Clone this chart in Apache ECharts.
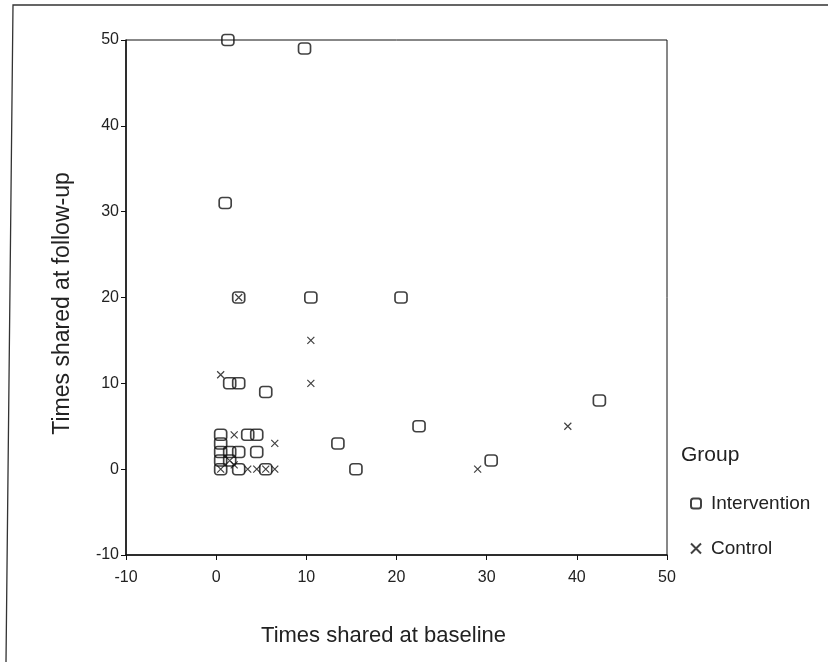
<!DOCTYPE html>
<html>
<head>
<meta charset="utf-8">
<script src="https://cdn.jsdelivr.net/npm/echarts@6/dist/echarts.min.js"></script>
<style>html,body{margin:0;padding:0;background:#fff}#c{width:828px;height:662px}</style>
</head>
<body>
<div id="c"></div>
<script>
// Data: [baseline, follow-up]
const interventionPoints = [
  [1.3, 50], [9.8, 49], [1, 31], [2.5, 20], [10.5, 20], [20.5, 20],
  [1.5, 10], [2.5, 10], [5.5, 9], [42.5, 8], [22.5, 5], [13.5, 3],
  [30.5, 1], [15.5, 0], [0.5, 4], [0.5, 3], [0.5, 2], [0.5, 1], [0.5, 0],
  [3.5, 4], [4.5, 4], [1.5, 2], [2.5, 2], [4.5, 2], [1.5, 1], [2.5, 0], [5.5, 0]
];
const controlPoints = [
  [2.5, 20], [10.5, 15], [10.5, 10], [0.5, 11], [39, 5], [29, 0],
  [6.5, 3], [2, 4], [0.5, 0], [1.5, 1], [3.5, 0], [4.5, 0], [6.5, 0], [5.5, 0], [2, 0.5]
];
const groupNames = ['Intervention', 'Control'];
const xTicks = [-10, 0, 10, 20, 30, 40, 50];
const yTicks = [-10, 0, 10, 20, 30, 40, 50];

const font = 'Liberation Sans, Arial, sans-serif';
const crossPath = 'path://M0,0L10,10M10,0L0,10';

const chart = echarts.init(document.getElementById('c'), null, {renderer: 'canvas'});
chart.setOption({
  backgroundColor: '#fff',
  animation: false,
  textStyle: {fontFamily: font},
  title: {
    text: 'Group', left: 676, top: 440,
    textStyle: {fontFamily: font, fontSize: 21, fontWeight: 'normal', color: '#222'}
  },
  graphic: [{
    type: 'polyline',
    shape: {points: [[6, 662], [13, 5], [828, 5]]},
    style: {stroke: '#333', lineWidth: 1.3, fill: null}
  }],
  legend: {
    orient: 'vertical', left: 685, top: 489, itemGap: 26,
    itemWidth: 10, itemHeight: 10,
    textStyle: {fontFamily: font, fontSize: 19, color: '#222', padding: [0, 0, 0, 5]},
    data: [
      {name: groupNames[0], icon: 'roundRect'},
      {name: groupNames[1], icon: crossPath}
    ]
  },
  grid: {left: 126, right: 161, top: 40, bottom: 107, show: true, borderColor: '#111', borderWidth: 1},
  xAxis: {
    type: 'value', min: xTicks[0], max: xTicks[xTicks.length - 1], interval: 10,
    name: 'Times shared at baseline', nameLocation: 'middle', nameGap: 70,
    nameTextStyle: {fontFamily: font, fontSize: 22, color: '#222', padding: [0, 26, 0, 0]},
    axisLine: {show: true, onZero: false, lineStyle: {color: '#111', width: 1.5}},
    axisTick: {show: true, length: 5, lineStyle: {color: '#111'}},
    axisLabel: {fontFamily: font, fontSize: 16, color: '#222', margin: 15},
    splitLine: {show: false}
  },
  yAxis: {
    type: 'value', min: yTicks[0], max: yTicks[yTicks.length - 1], interval: 10,
    name: 'Times shared at follow-up', nameLocation: 'middle', nameGap: 52,
    nameTextStyle: {fontFamily: font, fontSize: 23, color: '#222', padding: [0, 12, 0, 0]},
    axisLine: {show: true, onZero: false, lineStyle: {color: '#111', width: 1.5}},
    axisTick: {show: true, length: 5, lineStyle: {color: '#111'}},
    axisLabel: {fontFamily: font, fontSize: 16, color: '#222', margin: 7},
    splitLine: {show: false}
  },
  series: [
    {
      name: groupNames[0], type: 'scatter', data: interventionPoints,
      symbol: 'roundRect', symbolSize: [12, 11],
      itemStyle: {color: 'rgba(255,255,255,0)', borderColor: '#111', borderWidth: 1.6}
    },
    {
      name: groupNames[1], type: 'scatter', data: controlPoints,
      symbol: crossPath, symbolSize: 7,
      itemStyle: {color: 'rgba(255,255,255,0)', borderColor: '#111', borderWidth: 1.2}
    }
  ]
});
</script>
</body>
</html>
